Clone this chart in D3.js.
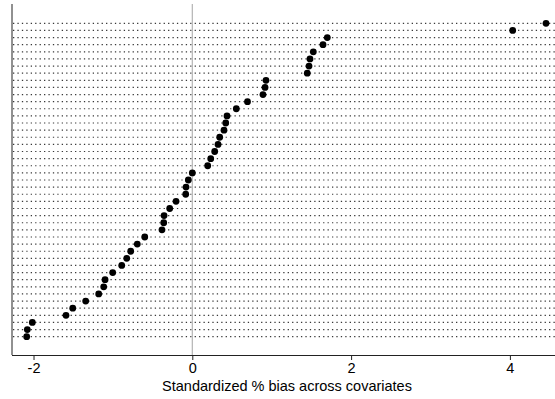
<!DOCTYPE html>
<html>
<head>
<meta charset="utf-8">
<script src="https://cdn.jsdelivr.net/npm/d3@7"></script>
<style>
  html, body { margin: 0; padding: 0; background: #fff; }
  svg { display: block; }
  text { font-family: "Liberation Sans", Arial, sans-serif; fill: #000; }
</style>
</head>
<body>
<svg id="chart" width="555" height="399"></svg>
<script>
// Standardized % bias for each covariate, sorted from largest (top) to smallest (bottom)
const biasValues = [
  4.455, 4.035, 1.700, 1.646, 1.524, 1.482, 1.470, 1.448, 0.928, 0.916,
  0.890, 0.695, 0.554, 0.437, 0.421, 0.399, 0.345, 0.324, 0.282, 0.232,
  0.194, 0.000, -0.050, -0.079, -0.083, -0.205, -0.285, -0.356, -0.360, -0.382,
  -0.599, -0.693, -0.776, -0.826, -0.889, -1.003, -1.099, -1.116, -1.179, -1.343,
  -1.506, -1.591, -2.015, -2.078, -2.086
];
const covariates = biasValues.map((_, i) => "covariate " + (i + 1));
const xTicks = [-2, 0, 2, 4];
const xTitle = "Standardized % bias across covariates";

const svg = d3.select("#chart");
const plot = { left: 12, right: 555, top: 4, bottom: 355 };

const x = d3.scaleLinear()
  .domain([-2.271, 4.568])
  .range([plot.left, plot.right]);

const y = d3.scalePoint()
  .domain(covariates)
  .range([23.3, 336.7]);

// dotted guide line for every covariate row
svg.append("g")
  .selectAll("line")
  .data(covariates)
  .join("line")
  .attr("x1", plot.left + 1)
  .attr("x2", plot.right)
  .attr("y1", d => y(d))
  .attr("y2", d => y(d))
  .attr("stroke", "#3a3a3a")
  .attr("stroke-width", 1.2)
  .attr("stroke-dasharray", "1.3 3.13");

// reference line at zero bias
svg.append("line")
  .attr("x1", x(0)).attr("x2", x(0))
  .attr("y1", plot.top).attr("y2", plot.bottom)
  .attr("stroke", "#b4b4b4")
  .attr("stroke-width", 1.2);

// left frame line
svg.append("line")
  .attr("x1", plot.left).attr("x2", plot.left)
  .attr("y1", plot.top).attr("y2", plot.bottom)
  .attr("stroke", "#222")
  .attr("stroke-width", 1);

// x axis
const xAxis = d3.axisBottom(x)
  .tickValues(xTicks)
  .tickFormat(d3.format("d"))
  .tickSize(5)
  .tickPadding(3);

const gx = svg.append("g")
  .attr("transform", `translate(0,${plot.bottom})`)
  .call(xAxis);
gx.select(".domain")
  .attr("d", `M${plot.left},0.5H${plot.right}`)
  .attr("stroke", "#222");
gx.selectAll(".tick line").attr("stroke", "#222");
gx.selectAll(".tick text")
  .attr("font-size", 14.5)
  .attr("font-family", "Liberation Sans, Arial, sans-serif")
  .attr("fill", "#000")
  .text(d => d < 0 ? "-" + Math.abs(d) : String(d));

// axis title
svg.append("text")
  .attr("x", 287)
  .attr("y", 390.7)
  .attr("text-anchor", "middle")
  .attr("font-size", 14.5)
  .text(xTitle);

// covariate markers
svg.append("g")
  .selectAll("circle")
  .data(biasValues)
  .join("circle")
  .attr("cx", d => x(d))
  .attr("cy", (d, i) => y(covariates[i]))
  .attr("r", 3.4)
  .attr("fill", "#000");
</script>
</body>
</html>
